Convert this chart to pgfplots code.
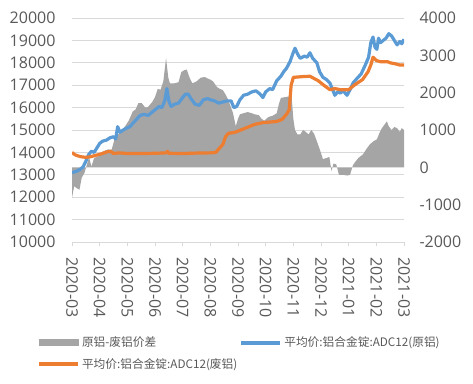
\documentclass[border=0pt]{standalone}
\usepackage{fontspec}
\setmainfont{Open Sans}
\newfontfamily\cjk{Noto Sans CJK SC}
\usepackage{pgfplots}
\pgfplotsset{compat=1.18}
\definecolor{txt}{HTML}{595959}
\definecolor{grd}{HTML}{D9D9D9}
\definecolor{cblue}{HTML}{5B9BD5}
\definecolor{corange}{HTML}{ED7D31}
\definecolor{cgray}{HTML}{A5A5A5}
\begin{document}
\begin{tikzpicture}
\path[use as bounding box] (-72pt,-141pt) rectangle (401pt,242pt);
\pgfplotsset{base/.style={scale only axis, width=332pt, height=224pt, xmin=0, xmax=12,
  scaled y ticks=false,
  /pgf/number format/assume math mode=true, /pgf/number format/1000 sep={},
  tick label style={font=\fontsize{16}{19}\selectfont, text=txt}}}
% axis 1: grid, left ticks, x axis
\begin{axis}[base, ymin=10000, ymax=20000, ytick distance=1000,
  axis x line*=bottom, axis y line*=left,
  y axis line style={draw=none}, x axis line style={grd, line width=0.8pt},
  ymajorgrids, grid style={grd, line width=0.8pt},
  ytick style={draw=none},
  xtick={0,...,12},
  xticklabels={2020-03,2020-04,2020-05,2020-06,2020-07,2020-08,2020-09,2020-10,2020-11,2020-12,2021-01,2021-02,2021-03},
  xticklabel style={rotate=-90, anchor=west},
  xticklabel shift=8pt,
  xtick style={grd, line width=0.8pt}, tick align=outside, major tick length=4pt,
  yticklabel style={xshift=-9pt}]
\end{axis}
% axis 2: right axis, spread area
\begin{axis}[base, ymin=-2000, ymax=4000, ytick distance=1000,
  axis y line*=right, axis x line=none,
  y axis line style={draw=none}, ytick style={draw=none},
  yticklabel style={xshift=12pt}]
\addplot[fill=cgray, draw=none] coordinates {
(0,-820) (0.08,-500) (0.15,-550) (0.27,-600) (0.35,-280) (0.45,-150) (0.55,100) (0.62,270) (0.7,20) (0.8,250) (0.95,300)
(1.1,420) (1.3,480) (1.43,470) (1.5,650) (1.55,800) (1.7,900) (1.92,1100) (2.05,1250) (2.2,1500) (2.3,1550) (2.4,1720)
(2.52,1720) (2.65,1600) (2.75,1620) (2.9,1750) (3.0,1880) (3.1,2100) (3.2,2080) (3.3,2300) (3.4,2930) (3.48,2400)
(3.54,2250) (3.7,2250) (3.85,2280) (3.95,2550) (4.05,2600) (4.15,2620) (4.25,2400) (4.35,2250) (4.5,2300) (4.65,2400)
(4.8,2420) (4.9,2380) (5.0,2350) (5.1,2300) (5.24,2150) (5.35,2100) (5.45,2070) (5.55,1950) (5.65,1800) (5.75,1600)
(5.82,1450) (5.92,1100) (6.0,1300) (6.07,1420) (6.2,1450) (6.35,1480) (6.5,1450) (6.6,1420) (6.75,1400) (6.85,1300)
(6.95,1250) (7.1,1350) (7.25,1380) (7.4,1450) (7.48,1700) (7.55,1860) (7.7,1880) (7.85,1900) (7.94,1880) (8.0,1300)
(8.06,1000) (8.15,880) (8.25,880) (8.35,1000) (8.45,950) (8.55,880) (8.65,1000) (8.75,900) (8.85,700) (8.97,450)
(9.07,220) (9.2,250) (9.3,280) (9.38,-100) (9.45,100) (9.55,80) (9.65,-200) (9.8,-200) (9.95,-220) (10.05,-200)
(10.15,50) (10.23,140) (10.35,250) (10.52,350) (10.65,500) (10.77,620) (10.9,700) (11.02,750) (11.1,900) (11.2,1050)
(11.3,1150) (11.38,1230) (11.45,1100) (11.55,1000) (11.65,1080) (11.75,1050) (11.85,950) (11.92,1050) (12.0,1000)
} \closedcycle;
\end{axis}
% axis 3: lines + legend
\begin{axis}[base, ymin=10000, ymax=20000, hide axis,
  legend columns=2, legend cell align=left,
  legend style={at={(-0.115,-0.405)}, anchor=north west, draw=none, fill=none,
    font={\cjk\fontsize{11.7}{14}\selectfont}, text=txt, row sep=6pt},
  legend image code/.code={\draw[#1, line width=4pt] (0pt,0pt) -- (39pt,0pt);}]
\addlegendimage{legend image code/.code={\fill[cgray] (0pt,-3pt) rectangle (39pt,3pt);}}
\addlegendentry{原铝-废铝价差}
\addplot[cblue, line width=3.2pt, line join=round] coordinates {
(0,13100) (0.15,13150) (0.3,13250) (0.4,13350) (0.5,13600) (0.6,13900) (0.7,14050) (0.8,14000) (0.9,14200) (1.0,14400)
(1.1,14500) (1.25,14550) (1.37,14650) (1.5,14700) (1.58,14600) (1.65,15150) (1.73,14900) (1.85,15000) (2.0,15100)
(2.1,15150) (2.2,15300) (2.35,15500) (2.46,15650) (2.6,15700) (2.75,15650) (2.9,15800) (3.05,15950) (3.15,16050)
(3.25,16000) (3.35,16300) (3.43,16850) (3.5,16300) (3.58,16050) (3.7,16150) (3.85,16200) (4.0,16450) (4.1,16600)
(4.2,16600) (4.3,16400) (4.45,16150) (4.6,16100) (4.75,16350) (4.9,16400) (5.0,16350) (5.15,16300) (5.3,16200)
(5.45,16250) (5.6,16300) (5.75,16300) (5.85,16000) (5.95,16050) (6.07,16350) (6.2,16550) (6.35,16600) (6.5,16700)
(6.65,16750) (6.8,16600) (6.9,16450) (7.0,16700) (7.15,16850) (7.25,16800) (7.4,17200) (7.55,17400) (7.65,17600)
(7.75,17750) (7.88,18050) (7.98,18400) (8.06,18650) (8.15,18400) (8.25,18200) (8.4,18300) (8.5,18250) (8.6,18450)
(8.7,18200) (8.85,18000) (8.95,17600) (9.07,17350) (9.2,17250) (9.32,17100) (9.42,16800) (9.5,16550) (9.6,16700)
(9.7,16650) (9.8,16750) (9.94,16550) (10.05,16800) (10.16,17100) (10.3,17300) (10.45,17500) (10.6,17900) (10.72,18250)
(10.8,18900) (10.88,19150) (10.95,18700) (11.02,18600) (11.08,19100) (11.15,18900) (11.25,19000) (11.35,19100)
(11.45,19300) (11.55,19200) (11.65,19000) (11.75,18800) (11.85,18950) (11.92,18850) (12.0,19050)
};
\addlegendentry{平均价:铝合金锭:ADC12(原铝)}
\addplot[corange, line width=3.2pt, line join=round] coordinates {
(0,14000) (0.1,13900) (0.2,13850) (0.35,13800) (0.5,13780) (0.65,13800) (0.8,13850) (0.95,13900) (1.1,13950) (1.25,14020)
(1.4,14050) (1.5,13950) (1.7,13980) (2.0,13950) (2.5,13950) (3.0,13960) (3.4,13980) (3.45,14050) (3.5,13960) (4.0,13950)
(4.5,13970) (5.0,13980) (5.2,14000) (5.3,14150) (5.45,14350) (5.55,14700) (5.65,14850) (5.9,14900) (6.3,15100)
(6.6,15250) (6.9,15330) (7.4,15380) (7.6,15480) (7.75,15700) (7.85,15900) (7.92,17000) (8.0,17350) (8.3,17380)
(8.6,17400) (8.9,17200) (9.1,17000) (9.32,16800) (9.5,16850) (9.7,16800) (10.0,16800) (10.2,17000) (10.5,17250)
(10.7,17600) (10.8,17900) (10.88,18250) (11.0,18100) (11.15,18050) (11.4,18050) (11.5,18000) (11.7,17950) (11.85,17900)
(12.0,17900)
};
\addlegendentry{平均价:铝合金锭:ADC12(废铝)}
\end{axis}
\end{tikzpicture}
\end{document}
